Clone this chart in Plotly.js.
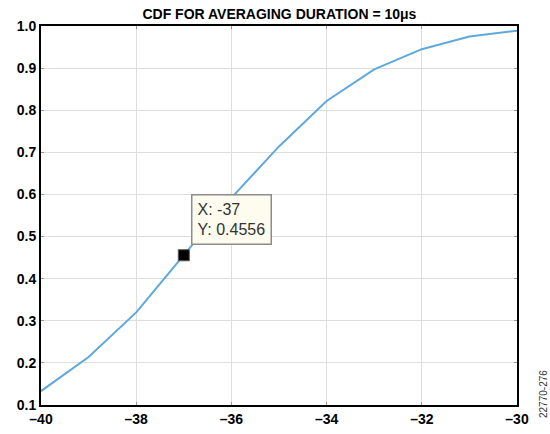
<!DOCTYPE html>
<html>
<head>
<meta charset="utf-8">
<script src="https://cdn.plot.ly/plotly-3.0.1.min.js"></script>
<style>html,body{margin:0;padding:0;background:#fff;}#chart{width:550px;height:434px;}</style>
</head>
<body>
<div id="chart"></div>
<script>
const xValues = [-40, -39, -38, -37, -36, -35, -34, -33, -32, -31, -30];
const cdfValues = [0.133, 0.214, 0.320, 0.4556, 0.592, 0.714, 0.822, 0.897, 0.945, 0.975, 0.989];
const markerX = [-37];
const markerY = [0.4556];
const xTicks = [-40, -38, -36, -34, -32, -30];
const yTicks = [0.1, 0.2, 0.3, 0.4, 0.5, 0.6, 0.7, 0.8, 0.9, 1.0];
const titleText = 'CDF FOR AVERAGING DURATION = 10μs';
const tipText = 'X: -37<br>Y: 0.4556';
const figId = '22770-276';

const traces = [
  {x: xValues, y: cdfValues, mode: 'lines', type: 'scatter',
   line: {color: '#5fa8de', width: 2}, hoverinfo: 'skip'},
  {x: markerX, y: markerY, mode: 'markers', type: 'scatter',
   marker: {symbol: 'square', size: 11, color: '#000', line: {color: '#555', width: 1}}}
];

const layout = {
  width: 550, height: 434,
  margin: {l: 41, r: 33, t: 26, b: 29},
  paper_bgcolor: '#fff', plot_bgcolor: '#fff',
  showlegend: false,
  font: {family: 'Liberation Sans, Arial, sans-serif', color: '#000'},
  title: {text: '<b>' + titleText + '</b>', x: 0.508, xanchor: 'center', y: 0.968, yanchor: 'middle',
          font: {size: 14, color: '#000', family: 'Liberation Sans, Arial, sans-serif'}},
  xaxis: {range: [-40, -30], tickvals: xTicks, ticktext: xTicks.map(v => '\u2013' + Math.abs(v)),
          showgrid: true, gridcolor: '#dedede', gridwidth: 1, zeroline: false,
          showline: true, linecolor: '#000', linewidth: 2, mirror: 'ticks',
          ticks: 'inside', ticklen: 3, tickcolor: '#999',
          tickfont: {size: 14, color: '#000', family: 'Liberation Sans, Arial, sans-serif', weight: 'bold'}},
  yaxis: {range: [0.1, 1.0], tickvals: yTicks, ticktext: yTicks.map(v => v.toFixed(1)),
          showgrid: true, gridcolor: '#dedede', gridwidth: 1, zeroline: false,
          showline: true, linecolor: '#000', linewidth: 2, mirror: 'ticks',
          ticks: 'inside', ticklen: 3, tickcolor: '#999',
          tickfont: {size: 14, color: '#000', family: 'Liberation Sans, Arial, sans-serif', weight: 'bold'}},
  annotations: [
    {x: markerX[0], y: markerY[0], xref: 'x', yref: 'y', text: tipText, showarrow: false,
     xanchor: 'left', yanchor: 'bottom', xshift: 7, yshift: 10, align: 'left',
     bgcolor: '#fdfcee', bordercolor: '#8c8c8c', borderwidth: 1.5, borderpad: 5,
     font: {size: 16, color: '#333', family: 'Liberation Sans, Arial, sans-serif'}},
    {x: 0, y: 0, xref: 'paper', yref: 'paper', text: figId, showarrow: false,
     xanchor: 'center', yanchor: 'middle',
     textangle: -90, font: {size: 10, color: '#333', family: 'Liberation Sans, Arial, sans-serif'}}
  ]
};
// position figure id in pixel-like paper coords
layout.annotations[1].x = (543 - 41) / (550 - 41 - 33);
layout.annotations[1].y = (405 - 394) / (405 - 26);

Plotly.newPlot('chart', traces, layout, {displayModeBar: false, staticPlot: true});
</script>
</body>
</html>
